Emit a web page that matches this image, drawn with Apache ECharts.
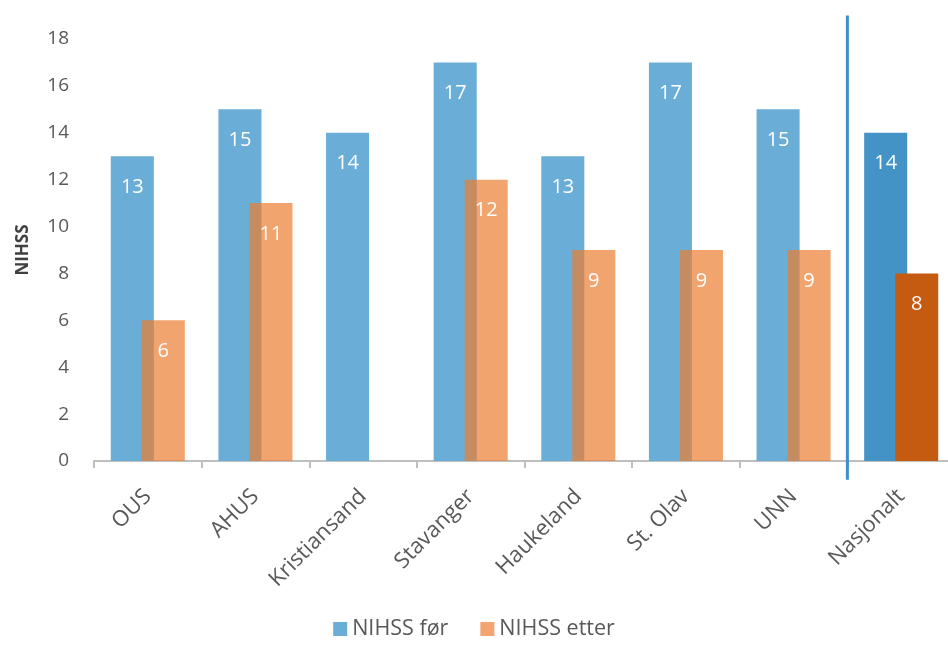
<!DOCTYPE html>
<html>
<head>
<meta charset="utf-8">
<script src="https://cdn.jsdelivr.net/npm/echarts@6/dist/echarts.min.js"></script>
<style>html,body{margin:0;padding:0;background:#fff;}#c{width:948px;height:646px;}</style>
</head>
<body>
<div id="c"></div>
<script>
var categories = ['OUS', 'AHUS', 'Kristiansand', 'Stavanger', 'Haukeland', 'St. Olav', 'UNN', 'Nasjonalt'];
var nihssFor = [13, 15, 14, 17, 13, 17, 15, 14];
var nihssEtter = [6, 11, null, 12, 9, 9, 9, 8];
var yTicks = [0, 2, 4, 6, 8, 10, 12, 14, 16, 18];

var FONT = '"Open Sans", "Noto Sans", sans-serif';
var blue = '#6aaed8';
var orange = 'rgba(237,125,49,0.7)';
var blueDark = '#4393c6';
var orangeDark = '#c55a11';
var last = categories.length - 1;

var chart = echarts.init(document.getElementById('c'));
var labelOpt = {
  show: true, position: 'insideTop', distance: 21,
  color: '#ffffff', fontSize: 20, fontFamily: FONT
};
chart.setOption({
  animation: false,
  textStyle: { fontFamily: FONT },
  grid: { left: 94, width: 861, top: 39, bottom: 185, outerBoundsMode: 'none', containLabel: false },
  legend: {
    bottom: 1, left: 'center', itemWidth: 14, itemHeight: 14, itemGap: 32,
    icon: 'rect',
    textStyle: { fontSize: 21.5, color: '#595959', fontFamily: FONT },
    data: [
      { name: 'NIHSS før', itemStyle: { color: blue } },
      { name: 'NIHSS etter', itemStyle: { color: '#f4a470' } }
    ]
  },
  xAxis: {
    type: 'category',
    data: categories,
    axisLine: { lineStyle: { color: '#bfbfbf', width: 2 } },
    axisTick: { show: true, length: 7, lineStyle: { color: '#bfbfbf', width: 2 } },
    axisLabel: { rotate: 45, fontSize: 22, color: '#595959', margin: 32, fontFamily: FONT, interval: 0 }
  },
  yAxis: {
    type: 'value', min: yTicks[0], max: yTicks[yTicks.length - 1], interval: 2,
    name: 'NIHSS', nameLocation: 'middle', nameGap: 62, nameRotate: 90,
    nameTextStyle: { fontSize: 17, fontWeight: 'bold', color: '#404040', fontFamily: FONT },
    axisLine: { show: false }, axisTick: { show: false },
    splitLine: { show: false },
    axisLabel: { fontSize: 19, color: '#595959', margin: 25, fontFamily: FONT }
  },
  series: [
    {
      name: 'NIHSS før', type: 'bar', barWidth: '40%', barGap: '-28%',
      itemStyle: { color: blue },
      label: labelOpt,
      data: nihssFor.map(function (v, i) {
        return i === last ? { value: v, itemStyle: { color: blueDark } } : v;
      })
    },
    {
      name: 'NIHSS etter', type: 'bar', barWidth: '40%', barGap: '-28%',
      itemStyle: { color: orange },
      label: labelOpt,
      data: nihssEtter.map(function (v, i) {
        return i === last ? { value: v, itemStyle: { color: orangeDark } } : v;
      })
    }
  ]
});

// separator line between UNN and Nasjonalt, positioned via the axis scales
var xa = chart.convertToPixel({ xAxisIndex: 0 }, last - 1);
var xb = chart.convertToPixel({ xAxisIndex: 0 }, last);
var sepX = (xa + xb) / 2;
var yTop = chart.convertToPixel({ yAxisIndex: 0 }, 19);
var yBot = chart.convertToPixel({ yAxisIndex: 0 }, -0.8);
chart.setOption({
  graphic: [{
    type: 'line', z: 100,
    shape: { x1: sepX, y1: yTop, x2: sepX, y2: yBot },
    style: { stroke: '#3d8fcb', lineWidth: 3 }
  }]
});
</script>
</body>
</html>
